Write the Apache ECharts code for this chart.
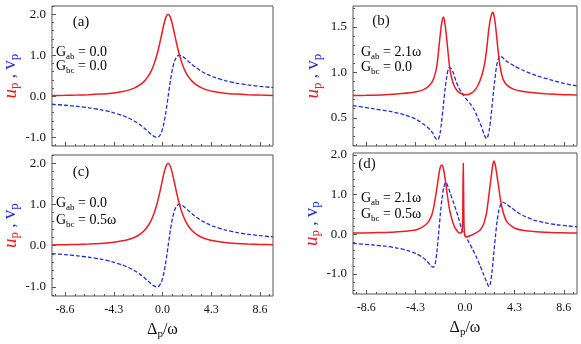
<!DOCTYPE html>
<html><head><meta charset="utf-8">
<script src="https://cdn.jsdelivr.net/npm/echarts@6/dist/echarts.min.js"></script>
<style>html,body{margin:0;padding:0;background:#fff}#c{width:581px;height:344px}</style>
</head><body><div id="c"></div>
<script>
// ---- tick labels ----
const xTickValues = [-8.6, -4.3, 0.0, 4.3, 8.6];
const xMinorTicks = [-9.46, -7.74, -6.88, -6.02, -5.16, -3.44, -2.58, -1.72, -0.86, 0.86, 1.72, 2.58, 3.44, 5.16, 6.02, 6.88, 7.74, 9.46];
const yTicksAC = [-1.0, 0.0, 1.0, 2.0];
const yMinorAC = [-1.2, -0.8, -0.6, -0.4, -0.2, 0.2, 0.4, 0.6, 0.8, 1.2, 1.4, 1.6, 1.8, 2.2];
const yTicksB = [0.5, 1.0, 1.5];
const yMinorB = [0.2, 0.3, 0.4, 0.6, 0.7, 0.8, 0.9, 1.1, 1.2, 1.3, 1.4, 1.6, 1.7];
const yTicksD = [-1.0, 0.0, 1.0, 2.0];
const yMinorD = [-1.4, -1.2, -0.8, -0.6, -0.4, -0.2, 0.2, 0.4, 0.6, 0.8, 1.2, 1.4, 1.6, 1.8];

// ---- panel (a) ----
const xA = [-9.75, -8.6, -7.5, -6.5, -5.5, -4.5, -3.5, -3.0, -2.5, -2.0, -1.6, -1.3, -1.0, -0.75, -0.5, -0.3, -0.1, 0.1, 0.3, 0.5, 0.7, 0.9, 1.1, 1.3, 1.5, 1.75, 2.0, 2.3, 2.6, 3.0, 3.5, 4.0, 4.5, 5.5, 6.5, 7.5, 8.6, 9.75];
const uA = [0.019, 0.024, 0.031, 0.040, 0.054, 0.077, 0.118, 0.151, 0.200, 0.276, 0.370, 0.472, 0.615, 0.780, 1.000, 1.220, 1.470, 1.724, 1.923, 2.000, 1.923, 1.724, 1.470, 1.220, 1.000, 0.780, 0.615, 0.472, 0.370, 0.276, 0.200, 0.151, 0.118, 0.077, 0.054, 0.040, 0.030, 0.023];
const vA = [-0.193, -0.217, -0.246, -0.280, -0.324, -0.385, -0.471, -0.528, -0.600, -0.690, -0.776, -0.849, -0.923, -0.976, -1.000, -0.976, -0.882, -0.690, -0.385, 0.000, 0.385, 0.690, 0.882, 0.976, 1.000, 0.976, 0.923, 0.849, 0.776, 0.690, 0.600, 0.528, 0.471, 0.385, 0.324, 0.280, 0.243, 0.214];

// ---- panel (c) ----
const xC = [-9.75, -8.6, -7.5, -6.5, -5.5, -4.5, -3.5, -3.0, -2.5, -2.0, -1.6, -1.3, -1.0, -0.75, -0.5, -0.3, -0.1, 0.1, 0.3, 0.5, 0.7, 0.9, 1.1, 1.3, 1.5, 1.75, 2.0, 2.3, 2.6, 3.0, 3.5, 4.0, 4.5, 5.5, 6.5, 7.5, 8.6, 9.75];
const uC = [0.019, 0.024, 0.031, 0.040, 0.054, 0.077, 0.118, 0.151, 0.200, 0.276, 0.370, 0.472, 0.615, 0.780, 1.000, 1.220, 1.470, 1.724, 1.923, 2.000, 1.923, 1.724, 1.470, 1.220, 1.000, 0.780, 0.615, 0.472, 0.370, 0.276, 0.200, 0.151, 0.118, 0.077, 0.054, 0.040, 0.030, 0.023];
const vC = [-0.193, -0.217, -0.246, -0.280, -0.324, -0.385, -0.471, -0.528, -0.600, -0.690, -0.776, -0.849, -0.923, -0.976, -1.000, -0.976, -0.882, -0.690, -0.385, 0.000, 0.385, 0.690, 0.882, 0.976, 1.000, 0.976, 0.923, 0.849, 0.776, 0.690, 0.600, 0.528, 0.471, 0.385, 0.324, 0.280, 0.243, 0.214];

// ---- panel (b) ----
const xBu = [-9.75, -8.6, -7.0, -5.5, -4.3, -3.6, -3.0, -2.7, -2.45, -2.25, -2.1, -1.97, -1.88, -1.8, -1.65, -1.5, -1.36, -1.2, -1.0, -0.7, -0.4, -0.1, 0.15, 0.45, 0.75, 1.1, 1.45, 1.7, 1.9, 2.05, 2.2, 2.32, 2.41, 2.5, 2.6, 2.72, 2.87, 3.05, 3.3, 3.65, 4.3, 5.1, 6.0, 7.0, 8.6, 9.75];
const uB = [0.745, 0.748, 0.755, 0.768, 0.785, 0.81, 0.87, 0.94, 1.07, 1.30, 1.48, 1.58, 1.61, 1.58, 1.44, 1.25, 1.08, 0.96, 0.87, 0.80, 0.77, 0.757, 0.755, 0.765, 0.79, 0.85, 0.96, 1.09, 1.27, 1.45, 1.58, 1.64, 1.66, 1.64, 1.57, 1.44, 1.25, 1.07, 0.93, 0.86, 0.81, 0.79, 0.775, 0.765, 0.755, 0.75];
const xBv = [-9.75, -8.0, -6.5, -5.2, -4.2, -3.5, -3.04, -2.8, -2.61, -2.48, -2.38, -2.28, -2.17, -2.05, -1.9, -1.75, -1.6, -1.47, -1.36, -1.2, -1.0, -0.8, -0.58, -0.35, -0.14, 0.15, 0.43, 0.75, 1.01, 1.25, 1.45, 1.62, 1.76, 1.88, 2.0, 2.12, 2.25, 2.41, 2.58, 2.75, 2.9, 3.04, 3.3, 3.65, 4.3, 5.1, 6.2, 7.4, 8.6, 9.75];
const vB = [0.635, 0.60, 0.57, 0.53, 0.48, 0.42, 0.37, 0.33, 0.285, 0.263, 0.258, 0.275, 0.33, 0.44, 0.62, 0.80, 0.94, 1.03, 1.055, 1.04, 0.99, 0.91, 0.84, 0.79, 0.75, 0.70, 0.66, 0.60, 0.53, 0.46, 0.40, 0.33, 0.29, 0.27, 0.30, 0.37, 0.50, 0.70, 0.90, 1.07, 1.15, 1.18, 1.16, 1.12, 1.07, 1.02, 0.965, 0.92, 0.88, 0.85];

// ---- panel (d) ----
const xDu = [-9.75, -8.0, -6.5, -5.5, -4.8, -4.3, -3.83, -3.43, -3.13, -2.88, -2.68, -2.48, -2.33, -2.18, -2.03, -1.88, -1.73, -1.58, -1.38, -1.18, -0.93, -0.7, -0.5, -0.3, -0.22, -0.18, -0.15, -0.12, -0.08, 0.0, 0.15, 0.5, 1.0, 1.3, 1.6, 1.85, 2.0, 2.15, 2.3, 2.42, 2.52, 2.62, 2.75, 2.9, 3.05, 3.2, 3.4, 3.6, 3.9, 4.3, 5.0, 6.0, 7.0, 8.0, 9.0, 9.75];
const uD = [0.03, 0.04, 0.05, 0.07, 0.09, 0.11, 0.16, 0.24, 0.34, 0.50, 0.75, 1.10, 1.40, 1.66, 1.75, 1.66, 1.40, 1.08, 0.68, 0.42, 0.20, 0.09, 0.03, 0.05, 0.2, 1.0, 1.79, 1.0, 0.2, -0.04, -0.06, -0.03, 0.04, 0.10, 0.24, 0.50, 0.80, 1.15, 1.50, 1.75, 1.85, 1.77, 1.55, 1.25, 0.95, 0.70, 0.48, 0.34, 0.24, 0.16, 0.10, 0.07, 0.05, 0.04, 0.035, 0.03];
const xDv = [-9.75, -8.0, -7.0, -6.0, -5.0, -4.3, -3.7, -3.3, -3.0, -2.85, -2.75, -2.6, -2.45, -2.3, -2.15, -2.0, -1.85, -1.68, -1.5, -1.3, -1.0, -0.6, -0.3, 0.0, 0.3, 0.7, 1.0, 1.3, 1.6, 1.85, 2.0, 2.09, 2.2, 2.35, 2.5, 2.65, 2.8, 2.95, 3.1, 3.28, 3.6, 4.0, 4.5, 5.0, 6.0, 7.0, 8.0, 9.0, 9.75];
const vD = [-0.23, -0.27, -0.30, -0.34, -0.41, -0.48, -0.58, -0.68, -0.78, -0.82, -0.83, -0.75, -0.45, 0.0, 0.5, 0.9, 1.18, 1.31, 1.22, 1.05, 0.80, 0.45, 0.14, -0.03, -0.18, -0.40, -0.58, -0.78, -1.00, -1.18, -1.28, -1.32, -1.25, -0.95, -0.50, -0.05, 0.35, 0.60, 0.75, 0.81, 0.76, 0.68, 0.57, 0.48, 0.36, 0.29, 0.24, 0.21, 0.19];

// ---- styling ----
const SERIF = "'Liberation Serif', 'DejaVu Serif', serif";
const RED = '#ea1d25';
const BLUE = '#1f2fd8';
const FRAME = '#555555';
const XMIN = -9.75, XMAX = 9.75;

const zip = (xs, ys) => xs.map((x, i) => [x, ys[i]]);

const grids = [
  { left: 48, top: 6, width: 225, height: 140 },
  { left: 353, top: 6, width: 224, height: 140 },
  { left: 48, top: 155, width: 225, height: 141 },
  { left: 353, top: 153, width: 224, height: 141 }
].map(g => Object.assign(g, { show: true, borderColor: FRAME, borderWidth: 1, backgroundColor: 'transparent' }));

const yRanges = [
  { min: -1.21, max: 2.2, ticks: yTicksAC, minor: yMinorAC },
  { min: 0.19, max: 1.73, ticks: yTicksB, minor: yMinorB },
  { min: -1.22, max: 2.2, ticks: yTicksAC, minor: yMinorAC },
  { min: -1.506, max: 2.05, ticks: yTicksD, minor: yMinorD }
];

const noLine = { show: false, onZero: false };
const xAxes = [], yAxes = [];
for (let g = 0; g < 4; g++) {
  const bottomRow = g >= 2;
  xAxes.push({
    type: 'value', gridIndex: g, min: XMIN, max: XMAX, position: 'bottom',
    axisLine: noLine, splitLine: { show: false },
    axisTick: { show: true, inside: true, length: 4, customValues: xTickValues, lineStyle: { color: FRAME } },
    axisLabel: { show: bottomRow, customValues: xTickValues, formatter: v => v.toFixed(1), margin: 8,
      fontFamily: SERIF, fontSize: 12, color: '#111' },
    name: bottomRow ? '{d|Δ}{s|p}{d|/ω}' : '', nameLocation: 'middle', nameGap: 24,
    nameTextStyle: { rich: {
      d: { fontFamily: SERIF, fontSize: 16, color: '#111', lineHeight: 20 },
      s: { fontFamily: SERIF, fontSize: 11, color: '#111', verticalAlign: 'bottom', lineHeight: 11 }
    } }
  });
  xAxes.push({
    type: 'value', gridIndex: g, min: XMIN, max: XMAX, position: 'bottom',
    axisLine: noLine, splitLine: { show: false }, axisLabel: { show: false },
    axisTick: { show: true, inside: true, length: 2, customValues: xMinorTicks, lineStyle: { color: FRAME } }
  });
  const r = yRanges[g];
  yAxes.push({
    type: 'value', gridIndex: g, min: r.min, max: r.max, position: 'left',
    axisLine: noLine, splitLine: { show: false },
    axisTick: { show: true, inside: true, length: 4, customValues: r.ticks, lineStyle: { color: FRAME } },
    axisLabel: { show: true, customValues: r.ticks, formatter: v => v.toFixed(1), margin: 6,
      fontFamily: SERIF, fontSize: 13, color: '#111' },
    name: '{u|u}{us|p}{c| , }{v|v}{vs|p}', nameLocation: 'middle', nameRotate: 90, nameGap: 29,
    nameTextStyle: { rich: {
      u: { fontFamily: SERIF, fontSize: 19, fontStyle: 'italic', color: RED, lineHeight: 22 },
      us: { fontFamily: SERIF, fontSize: 13, color: RED, verticalAlign: 'bottom', lineHeight: 13 },
      c: { fontFamily: SERIF, fontSize: 17, color: BLUE, lineHeight: 22 },
      v: { fontFamily: SERIF, fontSize: 19, color: BLUE, lineHeight: 22 },
      vs: { fontFamily: SERIF, fontSize: 13, color: BLUE, verticalAlign: 'bottom', lineHeight: 13 }
    } }
  });
  yAxes.push({
    type: 'value', gridIndex: g, min: r.min, max: r.max, position: 'left',
    axisLine: noLine, splitLine: { show: false }, axisLabel: { show: false },
    axisTick: { show: true, inside: true, length: 2, customValues: r.minor, lineStyle: { color: FRAME } }
  });
}

const panelData = [
  { u: zip(xA, uA), v: zip(xA, vA) },
  { u: zip(xBu, uB), v: zip(xBv, vB) },
  { u: zip(xC, uC), v: zip(xC, vC) },
  { u: zip(xDu, uD), v: zip(xDv, vD) }
];
const series = [];
panelData.forEach((p, g) => {
  series.push({ type: 'line', xAxisIndex: 2 * g, yAxisIndex: 2 * g, data: p.u, showSymbol: false, symbol: 'none',
    smooth: 0.25, lineStyle: { color: RED, width: 1.5 }, z: 3 });
  series.push({ type: 'line', xAxisIndex: 2 * g, yAxisIndex: 2 * g, data: p.v, showSymbol: false, symbol: 'none',
    smooth: 0.25, lineStyle: { color: BLUE, width: 1.3, type: [4, 2] }, z: 2 });
});

const gRich = {
  g: { fontFamily: SERIF, fontSize: 14, color: '#1a1a1a', lineHeight: 18 },
  s: { fontFamily: SERIF, fontSize: 9, color: '#1a1a1a', verticalAlign: 'bottom', lineHeight: 10 }
};
function gText(x, y, sub, val) {
  return { type: 'text', x: x, y: y, style: { text: '{g|G}{s|' + sub + '}{g| = ' + val + '}', rich: gRich,
    align: 'left', verticalAlign: 'middle' } };
}
function pLabel(x, y, t) {
  return { type: 'text', x: x, y: y, style: { text: t, font: '15px ' + SERIF, fill: '#111', align: 'center', verticalAlign: 'middle' } };
}

const graphic = [
  pLabel(81, 22, '(a)'), pLabel(381, 21, '(b)'), pLabel(81, 172, '(c)'), pLabel(367, 164, '(d)'),
  gText(56, 52, 'ab', '0.0'), gText(56, 66, 'bc', '0.0'),
  gText(361, 52, 'ab', '2.1ω'), gText(361, 67, 'bc', '0.0'),
  gText(56, 203, 'ab', '0.0'), gText(56, 220, 'bc', '0.5ω'),
  gText(361, 198, 'ab', '2.1ω'), gText(361, 214, 'bc', '0.5ω')
];

const chart = echarts.init(document.getElementById('c'), null, { renderer: 'canvas' });
chart.setOption({
  animation: false,
  backgroundColor: '#ffffff',
  grid: grids,
  xAxis: xAxes,
  yAxis: yAxes,
  series: series,
  graphic: graphic
});
</script>
</body></html>
